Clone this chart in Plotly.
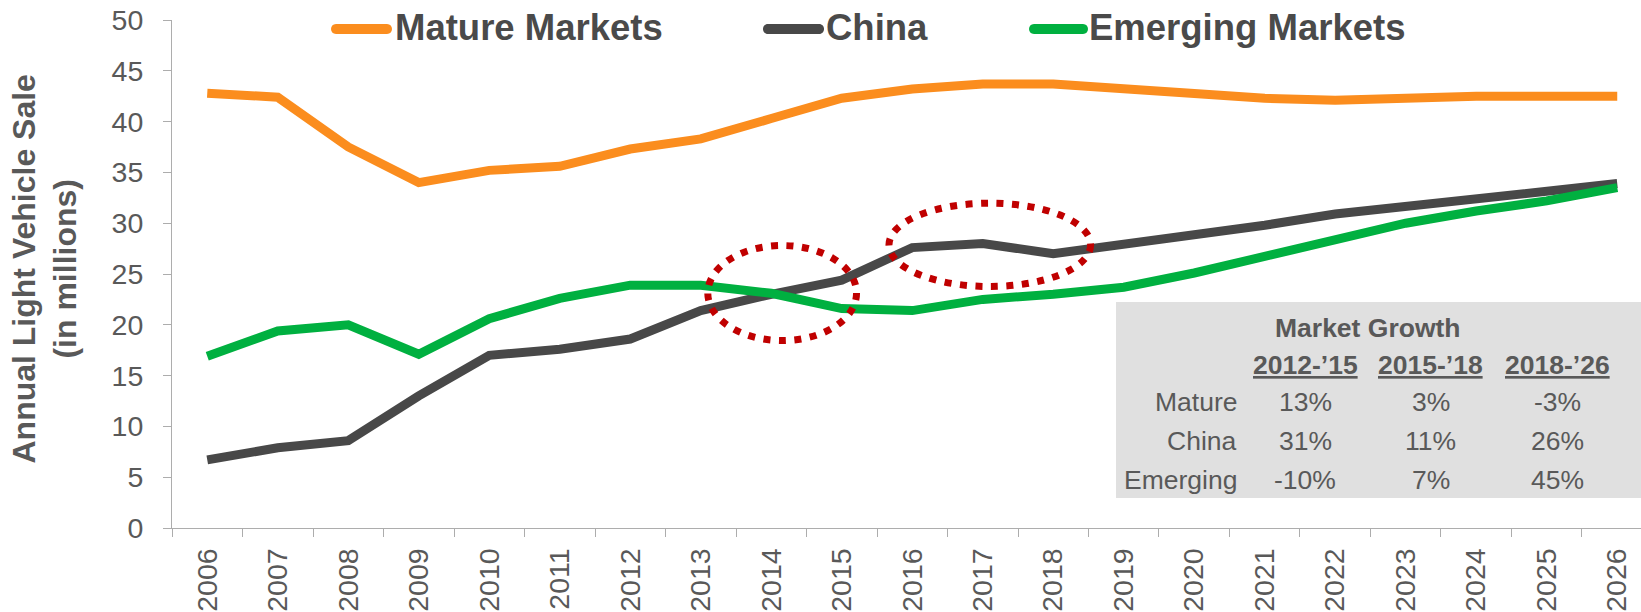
import plotly.graph_objects as go

# ---------------- data ----------------
years = [str(y) for y in range(2006, 2027)]
mature = [42.8, 42.4, 37.5, 34.0, 35.2, 35.6, 37.3, 38.3, 40.3, 42.3, 43.2,
          43.7, 43.7, 43.2, 42.7, 42.3, 42.1, 42.4, 42.5, 42.5, 42.5]
china = [6.7, 7.9, 8.6, 13.0, 17.0, 17.6, 18.6, 21.4, 23.0, 24.4, 27.6,
         28.0, 27.0, 27.9, 29.0, 29.8, 30.9, 31.6, 32.3, 33.1, 33.9]
emerging = [16.9, 19.4, 20.0, 17.1, 20.6, 22.6, 23.9, 23.9, 23.1, 21.6, 21.4,
            22.5, 23.0, 23.7, 25.1, 26.8, 28.5, 30.0, 31.2, 32.2, 33.5]

series_names = ["Mature Markets", "China", "Emerging Markets"]
y_ticks = list(range(0, 51, 5))

table_title = "Market Growth"
growth_periods = ["2012-\u201915", "2015-\u201918", "2018-\u201926"]
growth_rows = ["Mature", "China", "Emerging"]
growth_values = [["13%", "3%", "-3%"],
                 ["31%", "11%", "26%"],
                 ["-10%", "7%", "45%"]]

# highlighted regions (year-based x, value-based y)
highlights = [
    (2013.10, 2015.21, 18.45, 27.80),
    (2015.67, 2018.53, 23.77, 31.97),
]

# ---------------- style ----------------
W, H = 1641, 612
L, R, T, B = 172, 0, 20, 84
PW, PH = W - L - R, H - T - B
FONT = "Liberation Sans, Arial, sans-serif"
TXT = "#595959"
LEG_TXT = "#4a4a4a"
AXIS = "#ADADAD"
COLORS = ["#FB8D1E", "#484848", "#00B040"]
RED = "#C00000"


def px(x):
    return (x - L) / PW


def py(y):
    return (H - B - y) / PH


fig = go.Figure()
for name, vals, col in zip(series_names, [mature, china, emerging], COLORS):
    fig.add_trace(go.Scatter(x=years, y=vals, mode="lines", name=name,
                             line=dict(color=col, width=9),
                             showlegend=False))

# grey table background
fig.add_shape(type="rect", xref="paper", yref="paper", layer="below",
              x0=px(1116), x1=px(1641), y0=py(498), y1=py(302),
              fillcolor="#E0E0E0", line=dict(width=0))

# dotted ellipses
for x0, x1, y0, y1 in highlights:
    fig.add_shape(type="circle", xref="x", yref="y",
                  x0=x0 - 2006, x1=x1 - 2006, y0=y0, y1=y1,
                  line=dict(color=RED, width=7, dash="7px,8.5px"))

# custom legend
leg_items = [(331, 392, 395), (763, 824, 826), (1029, 1088, 1089)]
ly, r = 29, 5
for (a, b, tx), name, col in zip(leg_items, series_names, COLORS):
    x0, x1 = a + r, b - r
    k = 4 / 3 * r
    path = (f"M{px(x0)},{py(ly - r)} L{px(x1)},{py(ly - r)} "
            f"C{px(x1 + k)},{py(ly - r)} {px(x1 + k)},{py(ly + r)} {px(x1)},{py(ly + r)} "
            f"L{px(x0)},{py(ly + r)} "
            f"C{px(x0 - k)},{py(ly + r)} {px(x0 - k)},{py(ly - r)} {px(x0)},{py(ly - r)} Z")
    fig.add_shape(type="path", xref="paper", yref="paper", path=path,
                  fillcolor=col, line=dict(width=0))
    fig.add_annotation(xref="paper", yref="paper", x=px(tx - 2), y=py(28),
                       xanchor="left", yanchor="middle", showarrow=False,
                       text=f"<b>{name}</b>",
                       font=dict(family=FONT, size=36.5, color=LEG_TXT))

# y-axis title
fig.add_annotation(xref="paper", yref="paper", x=px(44), y=py(269.5),
                   xanchor="center", yanchor="middle", showarrow=False,
                   textangle=-90,
                   text="<b>Annual Light Vehicle Sale<br>(in millions)</b>",
                   font=dict(family=FONT, size=32, color=TXT))

# table text
TF = 26.5
fig.add_annotation(xref="paper", yref="paper", x=px(1367.5), y=py(327.5),
                   xanchor="center", yanchor="middle", showarrow=False,
                   text=f"<b>{table_title}</b>",
                   font=dict(family=FONT, size=TF, color=TXT))
col_x = [1305, 1430.5, 1557]
row_y = [401.7, 441, 480]
for cx, per in zip(col_x, growth_periods):
    fig.add_annotation(xref="paper", yref="paper", x=px(cx), y=py(365),
                       xanchor="center", yanchor="middle", showarrow=False,
                       text=f"<b><u>{per}</u></b>",
                       font=dict(family=FONT, size=TF, color=TXT))
for ry, lab, vals in zip(row_y, growth_rows, growth_values):
    fig.add_annotation(xref="paper", yref="paper", x=px(1239), y=py(ry),
                       xanchor="right", yanchor="middle", showarrow=False,
                       text=lab, font=dict(family=FONT, size=TF, color=TXT))
    for cx, v in zip(col_x, vals):
        fig.add_annotation(xref="paper", yref="paper", x=px(cx), y=py(ry),
                           xanchor="center", yanchor="middle", showarrow=False,
                           text=v, font=dict(family=FONT, size=TF, color=TXT))

fig.update_layout(
    width=W, height=H,
    margin=dict(l=L, r=R, t=T, b=B, pad=0),
    plot_bgcolor="white", paper_bgcolor="white",
    showlegend=False,
    hovermode=False,
    font=dict(family=FONT, color=TXT),
    xaxis=dict(type="category", categoryorder="array", categoryarray=years,
               range=[-0.5, 20.337], tickson="boundaries",
               ticks="outside", ticklen=8, tickcolor=AXIS, tickwidth=1,
               showline=True, linecolor=AXIS, linewidth=1,
               showgrid=False, zeroline=False, tickangle=-90,
               tickfont=dict(family=FONT, size=28.5, color=TXT),
               ticklabelstandoff=8),
    yaxis=dict(range=[0, 50], tickvals=y_ticks,
               ticks="outside", ticklen=8, tickcolor=AXIS, tickwidth=1,
               showline=True, linecolor=AXIS, linewidth=1,
               showgrid=False, zeroline=False,
               tickfont=dict(family=FONT, size=28.5, color=TXT),
               ticklabelstandoff=14),
)

fig.write_html("out.html",
               config={"displayModeBar": False, "staticPlot": True},
               post_script="document.body.style.margin='0';"
                           "document.body.style.overflow='hidden';")
